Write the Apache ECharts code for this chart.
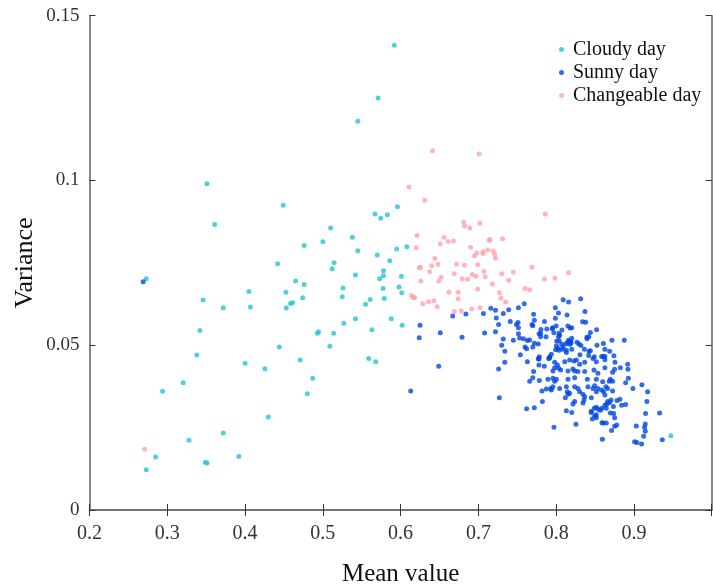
<!DOCTYPE html>
<html>
<head>
<meta charset="utf-8">
<script src="https://cdn.jsdelivr.net/npm/echarts@6/dist/echarts.min.js"></script>
<style>
  html, body { margin: 0; padding: 0; background: #fff; }
  #chart { width: 713px; height: 586px; }
</style>
</head>
<body>
<div id="chart"></div>
<script>
// Each point is [mean value, variance] for one day.
const cloudyDay = [
  [0.351,0.099],[0.592,0.141],[0.571,0.125],[0.545,0.118],[0.449,0.0925],[0.361,0.0866],[0.476,0.0803],
  [0.442,0.0747],[0.273,0.0702],[0.465,0.0695],[0.476,0.0684],[0.405,0.0663],[0.4525,0.0661],[0.346,0.0637],
  [0.4585,0.0627],[0.461,0.0629],[0.474,0.0644],[0.372,0.0614],[0.407,0.0616],[0.453,0.0613],[0.342,0.0545],
  [0.493,0.0536],[0.4945,0.0541],[0.444,0.0495],[0.338,0.047],[0.471,0.0455],[0.400,0.0445],[0.4255,0.0429],
  [0.487,0.040],[0.480,0.0353],[0.3205,0.0386],[0.294,0.036],[0.430,0.0282],[0.372,0.0234],[0.328,0.0212],
  [0.285,0.0161],[0.392,0.0162],[0.349,0.0145],[0.351,0.0143],[0.273,0.0122],[0.596,0.092],[0.567,0.0898],
  [0.583,0.0896],[0.5745,0.0885],[0.510,0.0856],[0.538,0.0828],[0.500,0.0814],[0.608,0.0799],[0.595,0.0792],
  [0.545,0.0787],[0.570,0.0774],[0.586,0.0756],[0.5145,0.075],[0.512,0.0732],[0.578,0.0726],[0.542,0.0713],
  [0.578,0.0711],[0.601,0.0709],[0.573,0.0702],[0.526,0.0674],[0.598,0.0677],[0.5775,0.0672],[0.6015,0.0659],
  [0.525,0.0647],[0.561,0.0639],[0.579,0.0642],[0.555,0.0624],[0.542,0.058],[0.527,0.0567],[0.588,0.058],
  [0.602,0.0561],[0.563,0.0547],[0.514,0.0536],[0.509,0.0497],[0.559,0.046],[0.568,0.045],[0.9475,0.0225]
];

const sunnyDay = [
  [0.269,0.0693],
  [0.716,0.0612],[0.722,0.0606],[0.739,0.0608],[0.7515,0.0614],[0.759,0.0626],[0.7065,0.0596],[0.732,0.0596],
  [0.684,0.0595],[0.667,0.0589],[0.723,0.0583],[0.741,0.0572],[0.771,0.0594],[0.772,0.0576],[0.751,0.0569],
  [0.749,0.0563],[0.726,0.0563],[0.769,0.0563],[0.770,0.0559],[0.625,0.0561],[0.7515,0.0553],[0.708,0.0537],
  [0.722,0.0541],[0.651,0.0538],[0.7515,0.0535],[0.624,0.0523],[0.679,0.0524],[0.753,0.0522],[0.758,0.052],
  [0.763,0.0514],[0.766,0.0516],[0.745,0.0515],[0.732,0.0519],[0.778,0.0535],[0.777,0.0504],[0.772,0.0506],
  [0.770,0.0495],[0.730,0.050],[0.760,0.0495],[0.762,0.0489],[0.734,0.0482],[0.754,0.0471],
  [0.649,0.0436],[0.613,0.0361],[0.726,0.0428],[0.734,0.0448],[0.727,0.0341],[0.762,0.0307],[0.772,0.031],
  [0.763,0.045],[0.771,0.042],[0.770,0.0401],[0.766,0.0391],
  [0.809,0.0638],[0.8315,0.0641],[0.816,0.0631],[0.799,0.0614],[0.803,0.0598],[0.837,0.0602],[0.814,0.0592],
  [0.799,0.0582],[0.785,0.0572],[0.834,0.0571],[0.838,0.057],[0.800,0.0558],[0.815,0.0558],[0.818,0.0552],
  [0.820,0.0553],[0.7805,0.0548],[0.788,0.0549],[0.795,0.055],[0.7955,0.0553],[0.8075,0.0546],[0.852,0.0547],
  [0.797,0.0538],[0.8036,0.0536],[0.803,0.0526],[0.8045,0.053],[0.787,0.0526],[0.780,0.0536],[0.780,0.0526],
  [0.844,0.0539],[0.842,0.0526],[0.8396,0.0524],[0.8396,0.052],[0.820,0.0521],[0.816,0.0515],[0.8187,0.0512],
  [0.8148,0.0509],[0.819,0.0506],[0.8122,0.0504],[0.8174,0.0503],[0.8007,0.0512],[0.8041,0.0513],[0.8268,0.0509],
  [0.8293,0.0504],[0.8071,0.0503],[0.8088,0.0495],[0.8003,0.0498],[0.802,0.0491],[0.7994,0.0486],[0.8036,0.0485],
  [0.808,0.0488],[0.8131,0.0485],[0.8131,0.0478],[0.82,0.0488],[0.8319,0.0499],[0.8363,0.0488],[0.8422,0.0482],
  [0.844,0.0483],[0.8525,0.05],[0.8607,0.0505],[0.8717,0.0515],[0.8876,0.0515],[0.8627,0.0488],[0.8688,0.0482],
  [0.8743,0.0468],[0.8585,0.0466],[0.8607,0.0466],[0.8627,0.0466],[0.8491,0.0465],[0.8418,0.0469],[0.8306,0.0471],
  [0.7939,0.0473],[0.7917,0.0465],[0.7904,0.0459],[0.7784,0.0465],[0.777,0.0459],
  [0.7779,0.044],[0.7848,0.0436],[0.7823,0.0329],[0.7784,0.0393],[0.7972,0.0251],
  [0.8919,0.0442],[0.8923,0.0427],[0.8928,0.04],[0.8893,0.0386],[0.8825,0.0432],[0.8752,0.0427],[0.8987,0.0369],
  [0.9103,0.038],[0.9176,0.0359],[0.9167,0.0329],[0.915,0.0293],[0.933,0.0294],[0.8893,0.032],[0.8842,0.0318],
  [0.882,0.0336],[0.903,0.0255],[0.9146,0.0261],[0.9137,0.0251],[0.9146,0.0239],[0.9125,0.0224],[0.9009,0.0207],
  [0.9038,0.0205],[0.9099,0.02],[0.9365,0.0213],[0.8594,0.0215],[0.8713,0.0241],[0.8778,0.0258],[0.8752,0.0254],
  [0.8752,0.028],[0.874,0.0293],[0.8589,0.0265],[0.8645,0.0264],[0.8607,0.0264],[0.8255,0.026],[0.8131,0.0301],
  [0.82,0.0296],[0.8465,0.0276],[0.8495,0.0285],[0.8517,0.028],[0.8452,0.03],[0.8491,0.0309],[0.8517,0.0312],
  [0.8542,0.0306],[0.8568,0.0303],[0.8589,0.0309],[0.8627,0.0318],[0.8653,0.0322],[0.8688,0.0326],[0.8736,0.0314],
  [0.8782,0.0332],
  [0.7779,0.0458],[0.7917,0.0462],[0.7981,0.0448],[0.8016,0.044],[0.7981,0.0432],[0.7959,0.0422],[0.8032,0.043],
  [0.8058,0.0425],[0.811,0.045],[0.8174,0.0455],[0.8229,0.0452],[0.826,0.0455],[0.8302,0.0442],[0.8367,0.0448],
  [0.8473,0.046],[0.8517,0.045],[0.8152,0.0422],[0.8216,0.0428],[0.8238,0.0422],[0.828,0.042],[0.8367,0.042],
  [0.8486,0.0425],[0.8537,0.0415],[0.7895,0.0397],[0.7959,0.04],[0.7981,0.0391],[0.8003,0.0397],[0.8152,0.0397],
  [0.8238,0.0401],[0.8401,0.0397],[0.8517,0.0397],[0.7818,0.0361],[0.7874,0.0367],[0.793,0.0369],[0.7959,0.0374],
  [0.7939,0.0364],[0.8045,0.0369],[0.8131,0.0374],[0.8144,0.0359],[0.8152,0.0351],[0.8118,0.0341],[0.8174,0.0354],
  [0.8238,0.0374],[0.828,0.0369],[0.8302,0.0359],[0.8345,0.0351],[0.8367,0.0344],[0.8358,0.0334],[0.8409,0.0374],
  [0.8473,0.0369],[0.8495,0.0377],[0.8537,0.0369],[0.8517,0.0359],[0.8238,0.0329],[0.8452,0.0341],
  [0.8627,0.0456],[0.8756,0.0448],[0.8726,0.0418],[0.8627,0.0432],[0.8598,0.0389],[0.864,0.0374],[0.8696,0.0397],
  [0.8683,0.0391],[0.8726,0.0391],[0.8585,0.0364],[0.861,0.0359],[0.8662,0.0369],[0.8726,0.0361],[0.8627,0.0349],
  [0.8705,0.0334],[0.8662,0.0329],
  [0.8216,0.0322],[0.8345,0.0325],[0.8645,0.0309],[0.8452,0.0296],[0.8517,0.0289],[0.8696,0.0294]
];

const changeableDay = [
  [0.641,0.109],[0.701,0.108],[0.611,0.098],[0.631,0.094],[0.271,0.0184],
  [0.681,0.0874],[0.702,0.087],[0.6825,0.0862],[0.689,0.0856],[0.621,0.0833],[0.656,0.0828],[0.715,0.0821],
  [0.714,0.0818],[0.731,0.0823],[0.661,0.0815],[0.668,0.0816],[0.651,0.0808],[0.620,0.0796],[0.690,0.0797],
  [0.712,0.0789],[0.706,0.0784],[0.706,0.0778],[0.698,0.078],[0.719,0.0786],[0.721,0.0776],[0.695,0.0771],
  [0.722,0.0764],[0.644,0.0764],[0.648,0.0746],[0.672,0.0746],[0.682,0.0743],[0.699,0.0744],[0.640,0.0741],
  [0.6255,0.0737],[0.624,0.0735],[0.769,0.0737],[0.6375,0.0723],[0.707,0.0724],[0.745,0.0722],[0.669,0.0717],
  [0.692,0.0715],[0.730,0.0717],[0.697,0.0709],[0.709,0.0708],[0.652,0.0706],[0.679,0.0702],[0.686,0.070],
  [0.649,0.0695],[0.626,0.0695],[0.739,0.0697],[0.718,0.0686],[0.760,0.0672],[0.766,0.0668],[0.699,0.0671],
  [0.662,0.0661],[0.674,0.0661],[0.727,0.0659],[0.614,0.0651],[0.616,0.0645],[0.618,0.0644],[0.674,0.0641],
  [0.729,0.0643],[0.643,0.0635],[0.636,0.0632],[0.735,0.0631],[0.6285,0.0626],[0.647,0.0617],[0.702,0.0614],
  [0.6915,0.061],[0.678,0.0604],[0.669,0.0602],[0.786,0.0898],[0.785,0.0701],[0.7985,0.0703],[0.816,0.072]
];

const seriesNames = ['Cloudy day', 'Sunny day', 'Changeable day'];
const seriesColors = ['#26c4cf', '#0047e0', '#ffa2aa'];

const FONT = '"Liberation Serif", "Times New Roman", serif';
const frameLine = { show: true, lineStyle: { color: '#6a6a6a', width: 1.6 } };
const innerTick = { show: true, inside: true, length: 6, lineStyle: { color: '#333', width: 1 } };

const chart = echarts.init(document.getElementById('chart'), null, { renderer: 'canvas' });

chart.setOption({
  animation: false,
  backgroundColor: '#fff',
  grid: {
    left: 89.5, right: 1.3, top: 15.7, bottom: 76,
    containLabel: false, outerBoundsMode: 'none'
  },
  legend: {
    orient: 'vertical',
    left: 554,
    top: 33,
    itemGap: 0,
    itemWidth: 5,
    itemHeight: 5,
    icon: 'circle',
    data: seriesNames,
    textStyle: { fontFamily: FONT, fontSize: 20, color: '#111', lineHeight: 23, padding: [0, 0, 0, 4] }
  },
  xAxis: [
    {
      type: 'value', min: 0.2, max: 1.0, interval: 0.1, position: 'bottom',
      name: 'Mean value', nameLocation: 'middle', nameGap: 52, nameMoveOverlap: false,
      nameTextStyle: { fontFamily: FONT, fontSize: 25, color: '#111' },
      axisLine: frameLine, axisTick: innerTick, splitLine: { show: false },
      axisLabel: {
        fontFamily: FONT, fontSize: 20, color: '#333', margin: 14,
        formatter: v => (v > 0.95 ? '' : String(Math.round(v * 10) / 10))
      }
    },
    {
      type: 'value', min: 0.2, max: 1.0, interval: 0.1, position: 'top',
      axisLine: frameLine, axisTick: innerTick, axisLabel: { show: false }, splitLine: { show: false }
    }
  ],
  yAxis: [
    {
      type: 'value', min: 0, max: 0.15, interval: 0.05, position: 'left',
      name: 'Variance', nameLocation: 'middle', nameGap: 51, nameMoveOverlap: false,
      nameTextStyle: { fontFamily: FONT, fontSize: 26, color: '#111' },
      axisLine: frameLine, axisTick: innerTick, splitLine: { show: false },
      axisLabel: {
        fontFamily: FONT, fontSize: 19, color: '#333', margin: 10,
        formatter: v => String(Math.round(v * 100) / 100)
      }
    },
    {
      type: 'value', min: 0, max: 0.15, interval: 0.05, position: 'right',
      axisLine: frameLine, axisTick: innerTick, axisLabel: { show: false }, splitLine: { show: false }
    }
  ],
  series: [
    { name: seriesNames[0], type: 'scatter', data: cloudyDay, symbolSize: 5,
      itemStyle: { color: seriesColors[0] } },
    { name: seriesNames[1], type: 'scatter', data: sunnyDay, symbolSize: 5,
      itemStyle: { color: seriesColors[1] } },
    { name: seriesNames[2], type: 'scatter', data: changeableDay, symbolSize: 5,
      itemStyle: { color: seriesColors[2] } }
  ]
});
</script>
</body>
</html>
